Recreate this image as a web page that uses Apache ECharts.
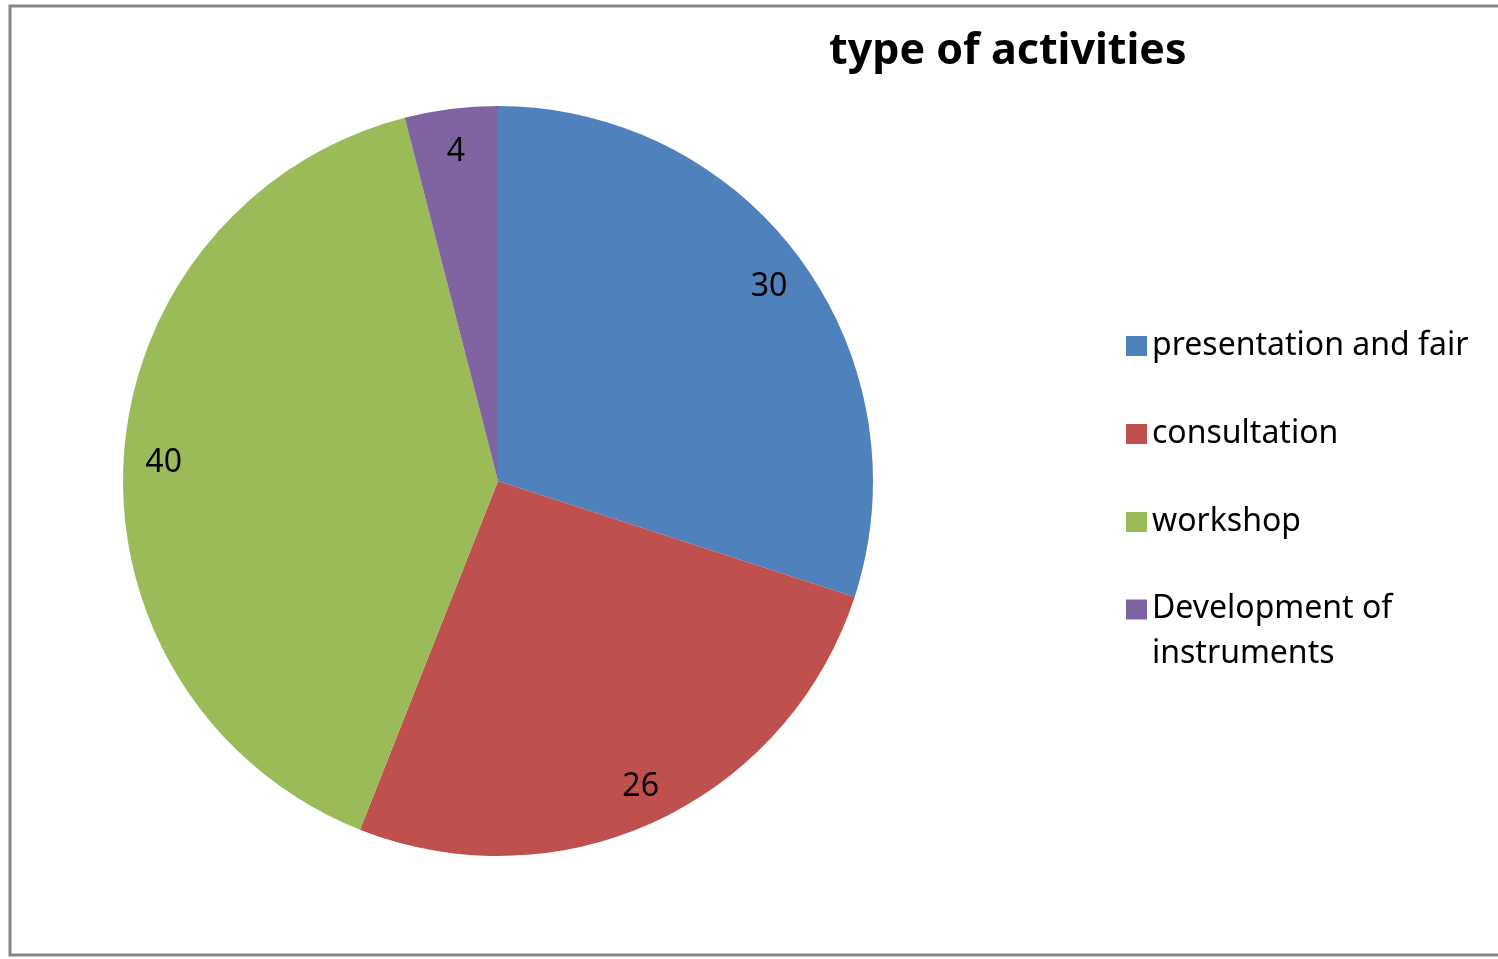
<!DOCTYPE html>
<html>
<head>
<meta charset="utf-8">
<script src="https://cdn.jsdelivr.net/npm/echarts@6/dist/echarts.min.js"></script>
<style>
html,body{margin:0;padding:0;background:#fff;}
#chart{width:1498px;height:959px;}
</style>
</head>
<body>
<div id="chart"></div>
<script>
const titleText = 'type of activities';
const categories = ['presentation and fair', 'consultation', 'workshop', 'Development of instruments'];
const values = [30, 26, 40, 4];
const colors = ['#4F81BD', '#C0504D', '#9BBB59', '#8064A2'];

const FONT = '"Noto Sans", "Open Sans", sans-serif';
const pieData = categories.map((c, i) => ({ name: c, value: values[i], itemStyle: { color: colors[i] } }));
const labelData = categories.map((c, i) => ({ name: c, value: values[i] }));

const legendBase = {
  orient: 'vertical',
  left: 1126,
  padding: 0,
  itemWidth: 21,
  itemHeight: 20,
  itemGap: 44,
  icon: 'rect',
  selectedMode: false,
  formatter: function (name) {
    if (name === categories[3]) {
      return '{a|Development of}\n{b|instruments}';
    }
    return name;
  },
  textStyle: {
    fontFamily: FONT, fontSize: 32, color: '#000', lineHeight: 44,
    rich: {
      a: { fontFamily: FONT, fontSize: 32, color: '#000', lineHeight: 88 },
      b: { fontFamily: FONT, fontSize: 32, color: '#000', lineHeight: 1 }
    }
  }
};

const chart = echarts.init(document.getElementById('chart'));
chart.setOption({
  backgroundColor: '#fff',
  animation: false,
  title: {
    text: titleText,
    left: 829,
    top: 30,
    padding: 0,
    textStyle: { fontFamily: FONT, fontWeight: 'bold', fontSize: 43, color: '#000' }
  },
  legend: [
    Object.assign({}, legendBase, { top: 324, data: categories.slice(0, 3) }),
    Object.assign({}, legendBase, { top: 565, data: categories.slice(3) })
  ],
  graphic: [{
    type: 'rect',
    shape: { x: 10, y: 6, width: 1500, height: 949 },
    style: { fill: 'none', stroke: '#868686', lineWidth: 3 },
    z: 100,
    silent: true
  }],
  series: [
    {
      type: 'pie',
      center: [498, 481],
      radius: [0, 375],
      startAngle: 90,
      clockwise: true,
      label: { show: false },
      labelLine: { show: false },
      itemStyle: { borderWidth: 0 },
      emphasis: { disabled: true },
      data: pieData
    },
    {
      type: 'pie',
      center: [498, 481],
      radius: [289, 375],
      startAngle: 90,
      clockwise: true,
      silent: true,
      itemStyle: { color: 'rgba(0,0,0,0)', borderWidth: 0 },
      label: { show: true, position: 'inside', formatter: '{c}', offset: [0, 3], fontFamily: FONT, fontSize: 32, color: '#000' },
      labelLine: { show: false },
      emphasis: { disabled: true },
      data: labelData
    }
  ]
});
</script>
</body>
</html>
